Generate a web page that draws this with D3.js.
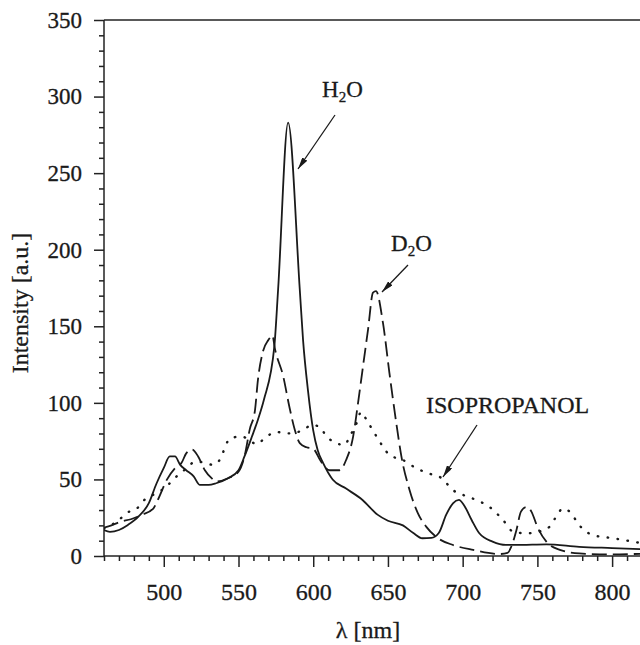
<!DOCTYPE html>
<html>
<head>
<meta charset="utf-8">
<script src="https://cdn.jsdelivr.net/npm/d3@7"></script>
<style>
    body { margin: 0; background: #fff; }
    text { font-family: "Liberation Serif", "Times New Roman", serif; fill: #1a1a1a; stroke: #1a1a1a; stroke-width: 0.3px; }
</style>
</head>
<body>
<div id="chart"></div>
<script>
// spectra: wavelength (nm) and intensity (a.u.)
var h2oWave = [460, 464, 470, 476, 483, 490, 495, 500, 504, 507.5, 511, 515, 520, 524, 530, 535, 543, 550, 554, 559, 563, 567, 574, 576.5, 583.2, 591, 593.2, 596.5, 600, 603, 606.5, 613, 622, 633, 643, 650, 660, 667, 673, 679, 684, 689, 693.5, 697.5, 701, 706, 711, 720, 729, 740, 756, 778, 800, 820];
var h2oInt = [17, 15.8, 17, 20.3, 25.7, 34.5, 47, 57.5, 65, 65, 59.5, 56, 52, 46.5, 46.4, 47.5, 50.8, 56, 65, 78, 89, 102, 137, 174, 283, 174, 141, 108, 82, 69, 61, 50, 44, 36.6, 27, 23, 20, 15, 11.6, 11.8, 15, 27, 34.4, 36.6, 33, 23.5, 15, 9.4, 7.2, 7.3, 7.6, 6, 5.2, 4.5];

var d2oWave = [460, 465, 471, 478, 485, 493, 496, 502, 507.5, 512, 515, 519, 523, 527.5, 532, 535, 543, 550, 554, 557.6, 561, 563, 566.5, 570, 572.7, 574.3, 580, 584, 587.7, 591, 595.5, 600, 605, 611, 617.7, 622, 626.7, 630, 633, 636.7, 640, 642, 646.7, 651, 655.6, 659, 664.5, 670, 675.7, 683.5, 693.5, 707, 725, 730, 732.5, 736, 739, 742.6, 746, 750, 756, 765, 778, 800, 820];
var d2oInt = [18.5, 20, 22.4, 24, 26.8, 31, 36.6, 49.7, 57.3, 61, 67, 69.5, 65, 56, 50.8, 48.6, 50.8, 55, 65, 83, 95, 115, 134, 141, 144, 135.7, 117, 97.6, 82.3, 73.7, 71, 70, 62, 56, 56, 62.7, 78, 100, 121.6, 148, 172, 173, 152, 119.4, 86.7, 65, 43, 28, 19, 11.6, 7.2, 4, 1.3, 2, 6, 17, 29, 32, 29, 19, 9.4, 4, 1.7, 1, 1.5];

var isoWave = [460, 470, 475, 482, 487, 493, 498.5, 504, 509.7, 515, 521, 527, 533, 538.7, 541, 545, 552, 557, 562, 568.7, 575.4, 582, 593, 599, 604, 609, 615.5, 621, 624.4, 629, 632, 635.6, 639, 646.7, 651, 660, 669, 677, 686, 693.5, 700, 709, 718, 727, 733.6, 742.6, 751.5, 758, 762.6, 767, 772.6, 777, 787, 800.5, 814, 820];
var isoInt = [18, 23.5, 28, 31, 36.6, 40, 43, 47.5, 53, 57, 61.6, 61, 59.5, 65, 71.4, 77, 78, 76, 73, 78, 81, 80, 82, 85.6, 84.5, 78, 73.7, 72.5, 78, 86.7, 94, 89, 83.5, 71.4, 66, 62.7, 57.3, 54, 50.8, 43, 40, 36.6, 32, 23.5, 16, 14.8, 16, 19, 25.7, 31, 28, 21.4, 13.7, 11.6, 9.4, 8.3];

var xMajor = [500, 550, 600, 650, 700, 750, 800];
var yMajor = [0, 50, 100, 150, 200, 250, 300, 350];

var width = 640, height = 645;
var plot = { left: 104, right: 642, top: 20, bottom: 556 };

var svg = d3.select("#chart")
    .append("svg")
    .attr("width", width)
    .attr("height", height);

var x = d3.scaleLinear().domain([460, 820]).range([plot.left, plot.right]);
var y = d3.scaleLinear().domain([0, 350]).range([plot.bottom, plot.top]);

// minor ticks every 10
var xMinor = d3.range(460, 821, 10).filter(d => d % 50 != 0);
var yMinor = d3.range(0, 351, 10).filter(d => d % 50 != 0);

svg.append("defs").append("clipPath").attr("id", "clip")
    .append("rect")
    .attr("x", plot.left).attr("y", plot.top)
    .attr("width", plot.right - plot.left).attr("height", plot.bottom - plot.top);

// x axis
var gx = svg.append("g").attr("transform", "translate(0," + plot.bottom + ")");
gx.append("g")
    .call(d3.axisBottom(x).tickValues(xMinor).tickSize(5).tickFormat(""))
    .select(".domain").remove();
gx.append("g")
    .attr("class", "xmaj")
    .call(d3.axisBottom(x).tickValues(xMajor).tickSize(11).tickPadding(16))
    .call(g => g.select(".domain").attr("d", "M" + plot.left + ",0H" + width));

// y axis
var gy = svg.append("g").attr("transform", "translate(" + plot.left + ",0)");
gy.append("g")
    .call(d3.axisLeft(y).tickValues(yMinor).tickSize(5).tickFormat(""))
    .select(".domain").remove();
gy.append("g")
    .call(d3.axisLeft(y).tickValues(yMajor).tickSize(10).tickPadding(12))
    .select(".domain").attr("d", "M0," + plot.top + "V" + plot.bottom);

svg.selectAll(".tick text")
    .style("font-family", "'Liberation Serif', serif")
    .style("font-size", "23px")
    .attr("fill", "#1a1a1a");
svg.selectAll(".xmaj .tick text").style("font-size", "24px");
svg.selectAll(".domain, .tick line")
    .attr("stroke", "#222")
    .attr("stroke-width", 1.5);

// top frame line
svg.append("line")
    .attr("x1", plot.left).attr("x2", width)
    .attr("y1", plot.top).attr("y2", plot.top)
    .attr("stroke", "#222").attr("stroke-width", 1.7);

// axis titles
svg.append("text")
    .attr("transform", "translate(28,303) rotate(-90)")
    .attr("text-anchor", "middle")
    .style("font-size", "24px")
    .text("Intensity [a.u.]");
svg.append("text")
    .attr("x", 368).attr("y", 638)
    .attr("text-anchor", "middle")
    .style("font-size", "24px")
    .text("λ [nm]");

// curves
var line = d3.line()
    .x(d => x(d[0]))
    .y(d => y(d[1]))
    .curve(d3.curveMonotoneX);

var curves = svg.append("g").attr("clip-path", "url(#clip)");

curves.append("path")
    .datum(d3.zip(isoWave, isoInt))
    .attr("d", line)
    .attr("fill", "none")
    .attr("stroke", "#1a1a1a")
    .attr("stroke-width", 2.4)
    .attr("stroke-linecap", "round")
    .attr("stroke-dasharray", "0.5,9.5");

curves.append("path")
    .datum(d3.zip(d2oWave, d2oInt))
    .attr("d", line)
    .attr("fill", "none")
    .attr("stroke", "#1a1a1a")
    .attr("stroke-width", 1.8)
    .attr("stroke-dasharray", "15,6");

curves.append("path")
    .datum(d3.zip(h2oWave, h2oInt))
    .attr("d", line)
    .attr("fill", "none")
    .attr("stroke", "#1a1a1a")
    .attr("stroke-width", 1.8);

// annotations with arrows
svg.append("defs").append("marker")
    .attr("id", "arrow")
    .attr("viewBox", "0 0 12 6")
    .attr("refX", 12).attr("refY", 3)
    .attr("markerWidth", 12).attr("markerHeight", 6)
    .attr("markerUnits", "userSpaceOnUse")
    .attr("orient", "auto")
    .append("path")
    .attr("d", "M0,0L12,3L0,6Z")
    .attr("fill", "#1a1a1a");

function label(tx, ty, size, main, sub, rest, ax1, ay1, ax2, ay2) {
    var t = svg.append("text")
        .attr("x", tx).attr("y", ty)
        .style("font-size", size + "px");
    t.append("tspan").text(main);
    if (sub) {
        t.append("tspan").attr("dy", 5).style("font-size", "15px").text(sub);
        t.append("tspan").attr("dy", -5).text(rest);
    }
    svg.append("line")
        .attr("x1", ax1).attr("y1", ay1)
        .attr("x2", ax2).attr("y2", ay2)
        .attr("stroke", "#1a1a1a")
        .attr("stroke-width", 1.3)
        .attr("marker-end", "url(#arrow)");
}

label(322, 97, 23, "H", "2", "O", 335, 115, 298, 169);
label(391, 251, 23, "D", "2", "O", 408, 265, 382, 292);
label(426, 413, 24, "ISOPROPANOL", null, null, 477, 425, 443, 477);
</script>
</body>
</html>
